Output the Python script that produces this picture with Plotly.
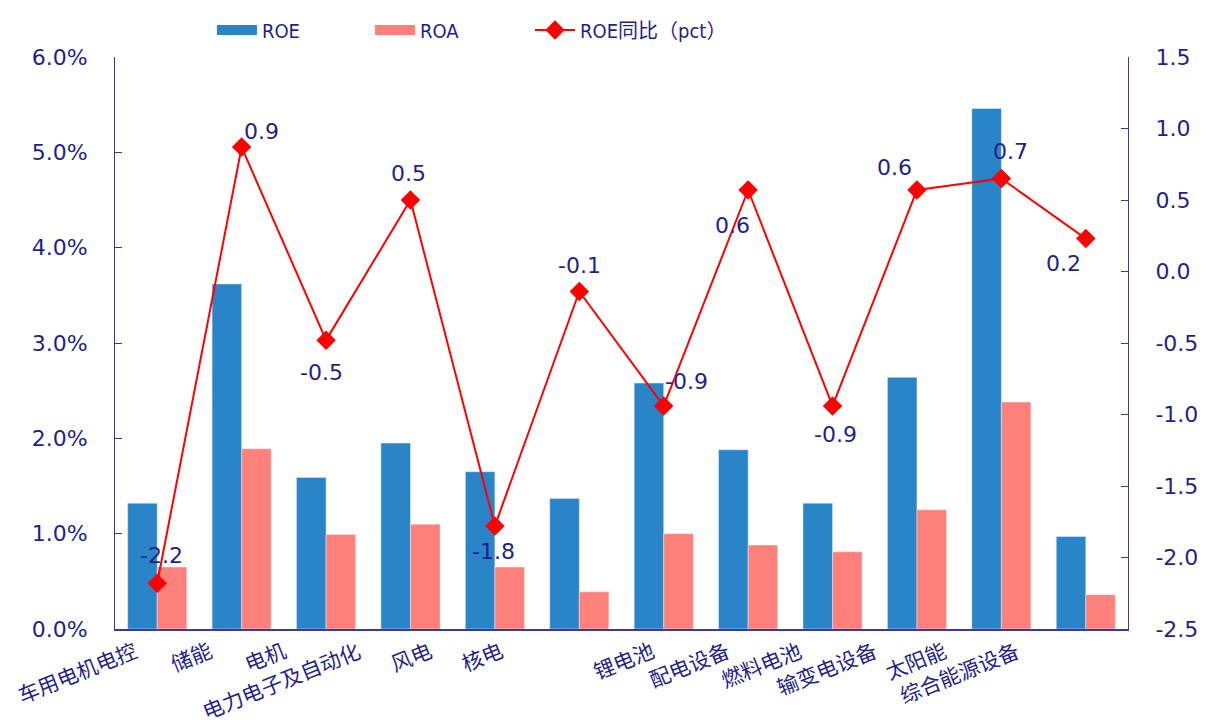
import plotly.graph_objects as go

# --- data ---
categories = ['车用电机电控', '储能', '电机', '电力电子及自动化', '风电', '核电',
              '锂电池', '配电设备', '燃料电池', '输变电设备', '太阳能', '综合能源设备']
roe = [1.32, 3.62, 1.59, 1.95, 1.65, 1.37, 2.58, 1.88, 1.32, 2.64, 5.46, 0.97]
roa = [0.65, 1.89, 0.99, 1.10, 0.65, 0.39, 1.00, 0.88, 0.81, 1.25, 2.38, 0.36]
roe_yoy = [-2.18, 0.87, -0.48, 0.50, -1.78, -0.14, -0.94, 0.57, -0.94, 0.57, 0.65, 0.23]

right_ticks = [-2.5, -2.0, -1.5, -1.0, -0.5, 0.0, 0.5, 1.0, 1.5]

# pixel offsets of each value label from its marker (style only)
val_dx = [4, 20, -5, -2, -1, 0, 23, -16, 3, -22, 9, -22]
val_dy = [28, 16, -32, 27, -25, 26, 24, -36, -29, 22, 27, -25]
# horizontal offset of each rotated category label from its tick (px)
label_dx = [-14, -23, -33, -43, -56, -70, -3, -12, -24, -34, -48, -60]

navy = '#1f1f8c'
axis_col = '#3a3a9a'
blue = '#2a84c8'
pink = '#ff7f7a'
font_main = 'Verdana, DejaVu Sans, sans-serif'
legend_font = dict(size=20, color=navy, family='DejaVu Sans Condensed, Noto Sans CJK SC')
idx = list(range(len(categories)))

fig = go.Figure()
fig.add_trace(go.Bar(x=idx, y=[v / 100 for v in roe], name='ROE',
                     marker_color=blue, showlegend=False))
fig.add_trace(go.Bar(x=idx, y=[v / 100 for v in roa], name='ROA',
                     marker_color=pink, showlegend=False))
fig.add_trace(go.Scatter(x=idx, y=roe_yoy, name='ROE同比（pct）', yaxis='y2',
                         legend='legend3', mode='lines+markers',
                         line=dict(color='#ff0000', width=2),
                         marker=dict(symbol='diamond', size=15, color='#ff0000'),
                         cliponaxis=False))

# legend-only entries with wide rectangular swatches like the original
fig.add_trace(go.Scatter(x=[None], y=[None], mode='lines', name='ROE',
                         line=dict(color=blue, width=13), legend='legend'))
fig.add_trace(go.Scatter(x=[None], y=[None], mode='lines', name='ROA',
                         line=dict(color=pink, width=13), legend='legend2'))

# value labels for the ROE yoy line
for i, v in enumerate(roe_yoy):
    fig.add_annotation(x=i, y=v, xref='x', yref='y2', text=f'{v:.1f}',
                       showarrow=False, xshift=val_dx[i], yshift=val_dy[i],
                       font=dict(size=22, color=navy, family=font_main))

# rotated category labels, right end anchored under each category
for i, (cat, dx) in enumerate(zip(categories, label_dx)):
    fig.add_annotation(x=i, y=0, xref='x', yref='paper', text=cat,
                       textangle=-22, xanchor='right', yanchor='top',
                       xshift=dx, yshift=-3, showarrow=False,
                       font=dict(size=21, color=navy, family='Noto Sans CJK SC'))

legend_common = dict(orientation='h', y=1.047, xanchor='left', yanchor='middle',
                     font=legend_font, itemwidth=40, bgcolor='rgba(0,0,0,0)')

fig.update_layout(
    width=1197, height=720,
    margin=dict(l=107, r=77, t=49, b=99, autoexpand=False),
    paper_bgcolor='white', plot_bgcolor='white',
    showlegend=True,
    barmode='group', bargap=0.3, bargroupgap=0,
    font=dict(family=font_main, color=navy),
    legend=dict(x=0.0957, **legend_common),
    legend2=dict(x=0.2517, **legend_common),
    legend3=dict(x=0.4097, **legend_common),
    xaxis=dict(range=[-0.5, 11.5], showticklabels=False, showline=True,
               linecolor=axis_col, linewidth=2, ticks='', showgrid=False),
    yaxis=dict(range=[0, 0.06], dtick=0.01, tickformat='.1%', showgrid=False,
               showline=True, linecolor=axis_col, linewidth=1,
               ticks='inside', ticklen=7, tickcolor=axis_col, ticklabelstandoff=22,
               tickfont=dict(size=22, color=navy), zeroline=False),
    yaxis2=dict(range=[-2.5, 1.5], tickvals=right_ticks,
                ticktext=[f'{v:.1f}' for v in right_ticks],
                overlaying='y', side='right',
                showgrid=False, showline=True, linecolor=axis_col, linewidth=1,
                ticks='inside', ticklen=7, tickcolor=axis_col, ticklabelstandoff=22,
                tickfont=dict(size=22, color=navy), zeroline=False),
)

fig.write_html('out.html')
